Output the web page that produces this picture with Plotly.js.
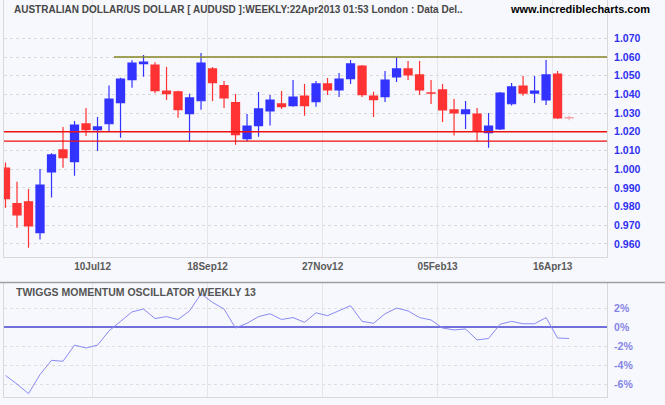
<!DOCTYPE html>
<html>
<head>
<meta charset="utf-8">
<script src="https://cdn.plot.ly/plotly-3.0.1.min.js"></script>
<style>
  html, body { margin: 0; padding: 0; background: #f7f8fd; }
  #chart { width: 665px; height: 405px; }
</style>
</head>
<body>
<div id="chart"></div>
<script>
// Weekly bars (week-ending Fridays)
const weeks = [
  '2012-05-18','2012-05-25','2012-06-01','2012-06-08','2012-06-15','2012-06-22','2012-06-29',
  '2012-07-06','2012-07-13','2012-07-20','2012-07-27','2012-08-03','2012-08-10','2012-08-17',
  '2012-08-24','2012-08-31','2012-09-07','2012-09-14','2012-09-21','2012-09-28','2012-10-05',
  '2012-10-12','2012-10-19','2012-10-26','2012-11-02','2012-11-09','2012-11-16','2012-11-23',
  '2012-11-30','2012-12-07','2012-12-14','2012-12-21','2012-12-28','2013-01-04','2013-01-11',
  '2013-01-18','2013-01-25','2013-02-01','2013-02-08','2013-02-15','2013-02-22','2013-03-01',
  '2013-03-08','2013-03-15','2013-03-22','2013-03-29','2013-04-05','2013-04-12','2013-04-19',
  '2013-04-26'
];
const openP = [
  1.0005,0.9816,0.9825,0.9660,0.9985,1.0103,1.0040,1.0242,1.0211,1.0243,
  1.0356,1.0479,1.0564,1.0557,1.0418,1.0414,1.0297,1.0366,1.0536,1.0447,
  1.0356,1.0163,1.0233,1.0311,1.0349,1.0340,1.0391,1.0361,1.0456,1.0424,
  1.0484,1.0552,1.0391,1.0388,1.0493,1.0536,1.0504,1.0408,1.0424,1.0317,
  1.0297,1.0295,1.0195,1.0215,1.0350,1.0445,1.0407,1.0370,1.0509,1.0276
];
const highP = [
  1.0035,0.9932,0.9894,1.0001,1.0085,1.0226,1.0258,1.0327,1.0279,1.0447,
  1.0489,1.0582,1.0611,1.0572,1.0547,1.0420,1.0404,1.0621,1.0547,1.0472,
  1.0402,1.0295,1.0413,1.0397,1.0418,1.0477,1.0456,1.0472,1.0488,1.0514,
  1.0584,1.0557,1.0414,1.0525,1.0598,1.0579,1.0579,1.0477,1.0456,1.0375,
  1.0365,1.0327,1.0301,1.0413,1.0461,1.0498,1.0498,1.0584,1.0525,1.0286
];
const lowP = [
  0.9793,0.9687,0.9580,0.9623,0.9848,1.0008,0.9965,1.0178,1.0097,1.0197,
  1.0168,1.0436,1.0495,1.0406,1.0370,1.0275,1.0147,1.0318,1.0365,1.0327,
  1.0131,1.0149,1.0174,1.0233,1.0322,1.0334,1.0286,1.0334,1.0397,1.0386,
  1.0456,1.0386,1.0279,1.0359,1.0466,1.0477,1.0397,1.0349,1.0252,1.0180,
  1.0215,1.0147,1.0115,1.0210,1.0340,1.0393,1.0354,1.0343,1.0268,1.0262
];
const closeP = [
  0.9842,0.9755,0.9696,0.9915,1.0076,1.0061,1.0236,1.0211,1.0226,1.0375,
  1.0482,1.0568,1.0573,1.0420,1.0404,1.0318,1.0381,1.0568,1.0463,1.0381,
  1.0184,1.0231,1.0322,1.0370,1.0334,1.0386,1.0340,1.0456,1.0424,1.0482,
  1.0563,1.0398,1.0372,1.0477,1.0536,1.0504,1.0424,1.0406,1.0317,1.0301,
  1.0317,1.0206,1.0231,1.0407,1.0440,1.0407,1.0418,1.0504,1.0274,1.0274
];
// Twiggs Momentum Oscillator (weekly 13), percent
const momentum = [
  -5.1,-6.0,-7.0,-5.0,-3.5,-3.6,-1.9,-2.2,-1.9,-0.4,
   0.6, 1.6, 1.9, 0.9, 1.1, 0.8, 1.7, 3.5, 2.6, 1.9,
  -0.1, 0.4, 1.1, 1.4, 0.8, 1.0, 0.5, 1.5, 1.2, 1.75,
   2.25,0.6, 0.4, 1.4, 2.0, 1.7, 1.0, 0.75,-0.1,-0.3,
  -0.2,-1.35,-1.2,0.3, 0.6, 0.35,0.35,1.0,-1.15,-1.2
];
const resistanceLevel = 1.060;
const resistanceStart = '2012-07-23';
const supportLevels = [1.020, 1.015];

const priceTicks = [0.960,0.970,0.980,0.990,1.000,1.010,1.020,1.030,1.040,1.050,1.060,1.070];
const priceTickText = ['0.960','0.970','0.980','0.990','1.000','1.010','1.020','1.030','1.040','1.050','1.060','1.070'];
const dateTicks = ['2012-07-10','2012-09-18','2012-11-27','2013-02-05','2013-04-16'];
const dateTickText = ['10Jul12','18Sep12','27Nov12','05Feb13','16Apr13'];
const momTicks = [-6,-4,-2,0,2];
const momTickText = ['-6%','-4%','-2%','0%','2%'];

const nDone = weeks.length - 1;
const BLUE = '#3333ff', RED = '#ff3333', PINK = '#f2a4a4';
const BOLD = 'Liberation Sans, Arial, sans-serif';

const traces = [
  {
    type: 'candlestick', xaxis: 'x', yaxis: 'y',
    x: weeks.slice(0, nDone), open: openP.slice(0, nDone), high: highP.slice(0, nDone),
    low: lowP.slice(0, nDone), close: closeP.slice(0, nDone),
    increasing: { line: { color: BLUE, width: 1.2 }, fillcolor: BLUE },
    decreasing: { line: { color: RED, width: 1.2 }, fillcolor: RED },
    whiskerwidth: 0, hoverinfo: 'skip', showlegend: false
  },
  {
    type: 'candlestick', xaxis: 'x', yaxis: 'y',
    x: weeks.slice(nDone), open: openP.slice(nDone), high: highP.slice(nDone),
    low: lowP.slice(nDone), close: closeP.slice(nDone),
    increasing: { line: { color: PINK, width: 1.2 }, fillcolor: PINK },
    decreasing: { line: { color: PINK, width: 1.2 }, fillcolor: PINK },
    whiskerwidth: 0, hoverinfo: 'skip', showlegend: false
  },
  {
    type: 'scatter', mode: 'lines', xaxis: 'x2', yaxis: 'y2',
    x: weeks, y: momentum,
    line: { color: '#8a8af2', width: 1 },
    hoverinfo: 'skip', showlegend: false
  }
];

const xRange = ['2012-05-17 02:00', '2013-05-19 02:00'];

const shapes = [
  { type: 'line', xref: 'x', yref: 'y', x0: resistanceStart, x1: xRange[1],
    y0: resistanceLevel, y1: resistanceLevel, line: { color: '#858522', width: 1.3 } },
  ...supportLevels.map(v => ({ type: 'line', xref: 'paper', yref: 'y', x0: 0, x1: 1,
    y0: v, y1: v, line: { color: '#ee1111', width: 1.3 } })),
  { type: 'line', xref: 'paper', yref: 'paper', x0: -0.01, x1: 1.1, y0: 1 - 282.5/405, y1: 1 - 282.5/405,
    line: { color: '#a0a0a0', width: 1.5 } }
];

const layout = {
  width: 665, height: 405,
  margin: { l: 4, r: 58, t: 0, b: 0, pad: 0 },
  paper_bgcolor: '#f7f8fd', plot_bgcolor: '#f7f8fd',
  showlegend: false,
  boxgap: 0.3,
  boxgroupgap: 0,
  xaxis: {
    domain: [0, 1], anchor: 'y', type: 'date', range: xRange,
    tickmode: 'array', tickvals: dateTicks, ticktext: dateTickText,
    showgrid: true, gridcolor: '#e6e6e6', gridwidth: 1,
    showline: true, linecolor: '#d8d8d8', linewidth: 1, ticks: '',
    tickfont: { family: BOLD, size: 10, color: '#5a5a5a', weight: 'bold' },
    rangeslider: { visible: false }, fixedrange: true, zeroline: false
  },
  yaxis: {
    domain: [1 - 257/405, 1], anchor: 'x', side: 'right', range: [0.9530, 1.0905],
    tickmode: 'array', tickvals: priceTicks, ticktext: priceTickText,
    showgrid: true, gridcolor: '#d9d9d9', griddash: 'dot', gridwidth: 1,
    showline: true, mirror: true, linecolor: '#d8d8d8', linewidth: 1, ticks: '',
    ticklabelstandoff: 4,
    tickfont: { family: BOLD, size: 10.5, color: '#3030f0', weight: 'bold' },
    zeroline: false, fixedrange: true
  },
  xaxis2: {
    domain: [0, 1], anchor: 'y2', type: 'date', range: xRange,
    tickmode: 'array', tickvals: dateTicks, showticklabels: false,
    showgrid: true, gridcolor: '#e6e6e6', gridwidth: 1,
    showline: true, linecolor: '#d8d8d8', linewidth: 1, ticks: '',
    fixedrange: true, zeroline: false
  },
  yaxis2: {
    domain: [1 - 397/405, 1 - 283/405], anchor: 'x2', side: 'right', range: [-7.36, 4.64],
    tickmode: 'array', tickvals: momTicks, ticktext: momTickText,
    showgrid: true, gridcolor: '#dedede', griddash: 'dot', gridwidth: 1,
    showline: true, mirror: true, linecolor: '#d8d8d8', linewidth: 1, ticks: '',
    ticklabelstandoff: 4,
    tickfont: { family: BOLD, size: 10.5, color: '#8585e6', weight: 'bold' },
    zeroline: true, zerolinecolor: '#7070d8', zerolinewidth: 1.2, fixedrange: true
  },
  shapes: shapes,
  annotations: [
    { xref: 'paper', yref: 'paper', x: (12 - 4)/603, y: 1 - 9/405, xanchor: 'left', yanchor: 'middle',
      text: 'AUSTRALIAN DOLLAR/US DOLLAR [ AUDUSD ]:WEEKLY:22Apr2013 01:53 London : Data Del..',
      showarrow: false, font: { family: BOLD, size: 10, color: '#474747', weight: 'bold' } },
    { xref: 'paper', yref: 'paper', x: (652 - 4)/603, y: 1 - 9/405, xanchor: 'right', yanchor: 'middle',
      text: 'www.incrediblecharts.com',
      showarrow: false, font: { family: BOLD, size: 11, color: '#000000', weight: 'bold' } },
    { xref: 'paper', yref: 'paper', x: (14 - 4)/603, y: 1 - 292/405, xanchor: 'left', yanchor: 'middle',
      text: 'TWIGGS MOMENTUM OSCILLATOR WEEKLY 13',
      showarrow: false, font: { family: BOLD, size: 10.5, color: '#555555', weight: 'bold' } }
  ]
};

Plotly.newPlot('chart', traces, layout, { displayModeBar: false, staticPlot: true });
</script>
</body>
</html>
